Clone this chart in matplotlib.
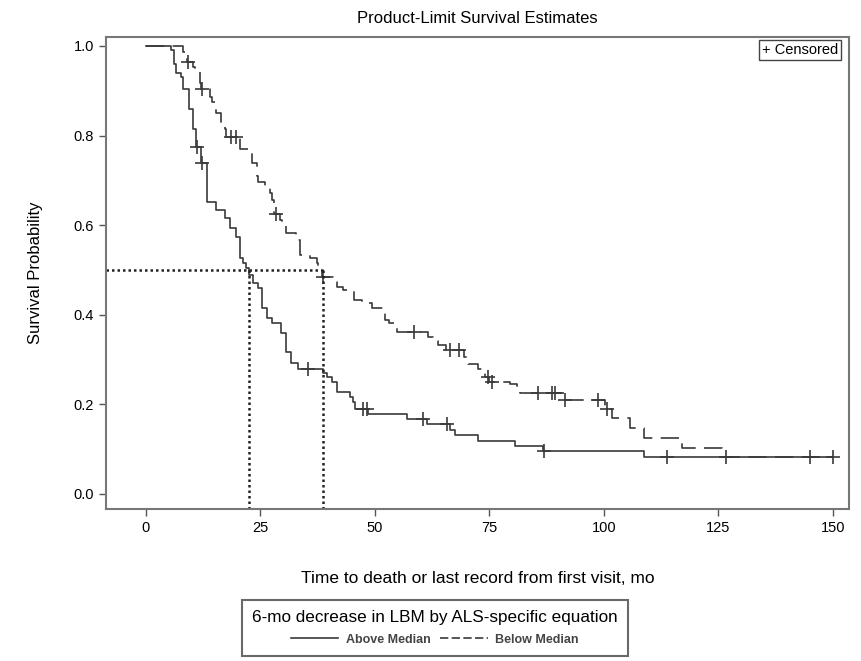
import numpy as np
import matplotlib.pyplot as plt
from matplotlib.lines import Line2D

plt.rcParams['font.family'] = ['Liberation Sans', 'DejaVu Sans']

# Above Median group: event times (mo) and survival after each event
above_t = [5.6, 6.2, 6.7, 7.6, 8.2, 9.5, 10.3, 11.0, 12.0, 13.3, 15.3, 17.3, 18.4,
           19.6, 20.5, 21.3, 21.9, 22.6, 23.4, 24.5, 25.3, 26.4, 27.5, 29.6, 30.7,
           31.8, 33.3, 38.6, 39.5, 40.6, 41.7, 44.6, 45.3, 45.7, 48.6, 57.0, 61.5,
           66.4, 67.5, 72.6, 80.6, 86.8, 108.7]
above_s = [0.990, 0.960, 0.940, 0.930, 0.905, 0.860, 0.815, 0.775, 0.738, 0.652,
           0.634, 0.615, 0.593, 0.574, 0.526, 0.515, 0.504, 0.489, 0.470, 0.459,
           0.414, 0.392, 0.381, 0.359, 0.318, 0.292, 0.278, 0.269, 0.262, 0.251,
           0.228, 0.217, 0.206, 0.190, 0.178, 0.167, 0.156, 0.143, 0.132, 0.119,
           0.107, 0.096, 0.082]
above_cens = [11.1, 12.2, 35.5, 47.5, 48.2, 60.6, 65.7, 86.9, 113.8, 145.0]
above_end = 150.0

# Below Median group
below_t = [8.2, 8.9, 10.3, 10.7, 11.8, 12.0, 14.0, 14.4, 15.3, 16.5, 17.3, 17.6,
           20.5, 22.4, 23.1, 24.3, 24.6, 26.0, 27.1, 27.5, 27.9, 29.3, 29.7, 30.7,
           32.9, 33.7, 35.8, 37.3, 37.7, 38.5, 40.8, 41.7, 43.0, 45.5, 47.1, 49.3,
           52.2, 53.0, 54.8, 61.7, 62.8, 63.9, 65.5, 69.5, 70.4, 72.6, 74.0, 75.0,
           79.5, 81.0, 81.7, 91.2, 100.3, 101.8, 105.8, 108.7, 117.1, 125.8]
below_s = [0.986, 0.965, 0.954, 0.943, 0.917, 0.905, 0.887, 0.876, 0.850, 0.820,
           0.814, 0.797, 0.771, 0.760, 0.738, 0.710, 0.697, 0.685, 0.671, 0.656,
           0.626, 0.612, 0.604, 0.582, 0.567, 0.533, 0.526, 0.515, 0.505, 0.485,
           0.474, 0.463, 0.455, 0.433, 0.426, 0.414, 0.388, 0.381, 0.362, 0.350,
           0.341, 0.333, 0.321, 0.305, 0.290, 0.278, 0.262, 0.251, 0.245, 0.240,
           0.225, 0.210, 0.190, 0.169, 0.147, 0.124, 0.102, 0.083]
below_cens = [9.3, 12.3, 18.7, 19.8, 28.4, 38.6, 58.5, 66.5, 68.3, 74.8, 75.5,
              85.7, 88.7, 89.4, 91.6, 98.8, 100.7, 126.7, 150.0]
below_end = 150.0

median_above = 22.6
median_below = 38.6

line_col = '#3a3a3a'


def km_xy(t, s, end):
    x = np.r_[0.0, t, end]
    y = np.r_[1.0, s, s[-1]]
    return x, y


def surv_at(t, s, ti):
    idx = np.searchsorted(t, ti, side='right') - 1
    return np.where(idx >= 0, np.asarray(s)[idx], 1.0)


fig = plt.figure(figsize=(8.61, 6.61), dpi=100)
ax = fig.add_axes([0.123, 0.230, 0.863, 0.714])

dash = (0, (11, 5))

x, y = km_xy(above_t, above_s, above_end)
ax.step(x, y, where='post', color=line_col, lw=1.2)
x, y = km_xy(below_t, below_s, below_end)
ax.step(x, y, where='post', color=line_col, lw=1.2, linestyle=dash)

ax.plot(above_cens, surv_at(above_t, above_s, above_cens), '+', color=line_col,
        ms=10, mew=1.2, linestyle='none')
ax.plot(below_cens, surv_at(below_t, below_s, below_cens), '+', color=line_col,
        ms=10, mew=1.2, linestyle='none')

# median reference lines
xmin, xmax = -8.7, 153.5
ymin, ymax = -0.0335, 1.02
ax.plot([xmin, median_below], [0.5, 0.5], color='#222222', lw=1.8, linestyle=(0, (1, 1.2)))
for m in (median_above, median_below):
    ax.plot([m, m], [ymin, 0.5], color='#222222', lw=1.8, linestyle=(0, (1, 1.2)))

ax.set_xlim(xmin, xmax)
ax.set_ylim(ymin, ymax)
ax.set_xticks([0, 25, 50, 75, 100, 125, 150])
ax.set_yticks([0.0, 0.2, 0.4, 0.6, 0.8, 1.0])
ax.set_yticklabels(['0.0', '0.2', '0.4', '0.6', '0.8', '1.0'])
ax.tick_params(labelsize=10.5, length=5, width=1, color='#555555', direction='out')
for sp in ax.spines.values():
    sp.set_color('#777777')
    sp.set_linewidth(1.5)

ax.set_title('Product-Limit Survival Estimates', fontsize=12, pad=10)
ax.set_ylabel('Survival Probability', fontsize=12, labelpad=22)
ax.set_xlabel('Time to death or last record from first visit, mo', fontsize=12.5, labelpad=26)

ax.text(0.985, 0.987, '+ Censored', transform=ax.transAxes, ha='right', va='top',
        fontsize=10.5, bbox=dict(boxstyle='square,pad=0.2', fc='white', ec='#444444', lw=1))

handles = [Line2D([], [], color=line_col, lw=1.2),
           Line2D([], [], color=line_col, lw=1.2, linestyle=(0, (5, 2)))]
leg = fig.legend(handles, ['Above Median', 'Below Median'], ncol=2, loc='center',
                 bbox_to_anchor=(0.505, 0.050), frameon=True, fancybox=False,
                 title='6-mo decrease in LBM by ALS-specific equation',
                 prop={'size': 9, 'weight': 'bold'},
                 title_fontsize=12.3, handlelength=3.8, columnspacing=0.8,
                 handletextpad=0.6, borderpad=0.8, labelspacing=0.7)
leg.get_frame().set_edgecolor('#444444')
leg.get_frame().set_linewidth(1.5)
for t in leg.get_texts():
    t.set_color('#444444')

fig.savefig('out.png', dpi=100)
